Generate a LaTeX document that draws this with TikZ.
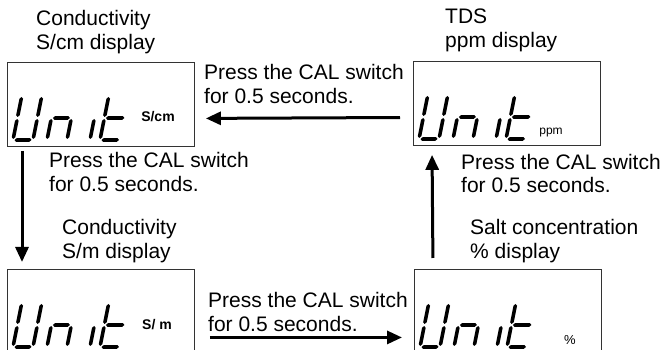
\documentclass[tikz,border=0pt]{standalone}
\usepackage{fontspec}
\setmainfont{Liberation Sans}
\usepackage{tikz}
\usetikzlibrary{calc, positioning, arrows.meta}

% one tapered LCD segment, vertical (x, from y1 to y2) or horizontal (y, from x1 to x2)
\newcommand{\vseg}[3]{\fill (#1,#2) -- ++(1.8,1.8) -- (#1+1.8,#3-1.8) -- (#1,#3) -- (#1-1.8,#3-1.8) -- (#1-1.8,#2+1.8) -- cycle;}
\newcommand{\hseg}[3]{\fill (#2,#1) -- ++(1.8,1.8) -- (#3-1.8,#1+1.8) -- (#3,#1) -- (#3-1.8,#1-1.8) -- (#2+1.8,#1-1.8) -- cycle;}
% seven segment word "Unit" in box #1
\newcommand{\unitword}[1]{%
\begin{scope}[shift={(#1.north west)},xshift=6pt,yshift=-78pt,xslant=0.2]
    % U
    \vseg{0}{1}{21}\vseg{0}{23}{43}\vseg{20}{1}{21}\vseg{20}{23}{43}\hseg{0}{1.5}{18.5}
    % n
    \vseg{34}{1}{21}\vseg{54}{1}{21}\hseg{22}{35.5}{52.5}
    % i
    \vseg{77}{1}{21}
    % t
    \vseg{87}{1}{21}\vseg{87}{23}{43}\hseg{22}{88.5}{107}\hseg{0}{88.5}{106}
\end{scope}}

\tikzset{
    lcd/.style={draw=black!80, line width=0.9pt, minimum width=187pt, minimum height=84pt, inner sep=0pt, anchor=north west},
    caption/.style={font=\fontsize{21}{24}\selectfont, align=left, anchor=west, inner sep=0pt},
    unitlbl/.style={font=\fontsize{12}{12}\selectfont, inner sep=0pt},
    unitbold/.style={font=\fontsize{14}{14}\selectfont\bfseries, inner sep=0pt},
    flow/.style={->, line width=3pt}
}

\begin{document}
\begin{tikzpicture}[x=1pt, y=1pt, >={Triangle[length=15pt,width=13pt]}]
    \path[use as bounding box, clip] (0,0) rectangle (665,350);
    % display boxes
    \node[lcd] (A) at (7,288) {};
    \node[lcd] (B) at (413,289) {};
    \node[lcd] (C) at (7,81) {};
    \node[lcd] (D) at (414,81) {};
    \unitword{A}
    \unitword{B}
    \unitword{C}
    \unitword{D}
    \node[unitbold] (uA) at ($(A.north west)+(151,-55)$) {S/cm};
    \node[unitlbl] (uB) at ($(B.north west)+(138,-72)$) {ppm};
    \node[unitbold] (uC) at ($(C.north west)+(150,-56)$) {S/ m};
    \node[unitlbl, font=\fontsize{13}{13}\selectfont] (uD) at ($(D.north west)+(156,-71)$) {\%};
    % titles
    \node[caption] (tA) at (36,318) {Conductivity\\S/cm display};
    \node[caption] (tB) at (445,320) {TDS\\ppm display};
    \node[caption] (tC) at (62,109) {Conductivity\\S/m display};
    \node[caption] (tD) at (470,108.5) {Salt concentration\\\% display};
    % switch notes
    \node[caption] (pAB) at (204,266) {Press the CAL switch\\for 0.5 seconds.};
    \node[caption] (pAC) at (49,178.5) {Press the CAL switch\\for 0.5 seconds.};
    \node[caption] (pDB) at (461,176.5) {Press the CAL switch\\for 0.5 seconds.};
    \node[caption] (pCD) at (208,38.5) {Press the CAL switch\\for 0.5 seconds.};
    % arrows
    \draw[flow, shorten <=13pt, shorten >=11pt] ([yshift=-14pt]B.west) -- ([yshift=-14pt]A.east);
    \draw[flow, shorten <=4pt, shorten >=7pt] ([xshift=15pt]A.south west) -- ([xshift=15pt]C.north west);
    \draw[flow, shorten <=15pt, shorten >=12pt] ([yshift=-26pt]C.east) -- ([yshift=-26pt]D.west);
    \draw[flow, shorten <=11pt, shorten >=9pt] ([xshift=19pt]D.north west) -- ([xshift=19pt]B.south west);
\end{tikzpicture}
\end{document}
